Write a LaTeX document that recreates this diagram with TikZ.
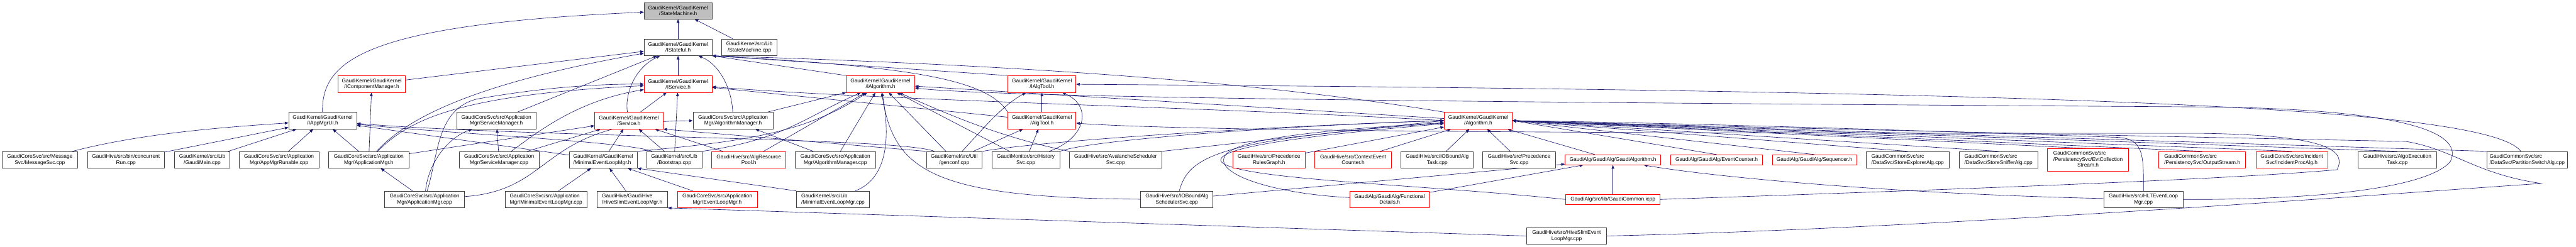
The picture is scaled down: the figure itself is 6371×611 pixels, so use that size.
\documentclass[tikz,border=0pt]{standalone}
\usepackage{fontspec}
\setmainfont{Liberation Sans}
\usetikzlibrary{arrows.meta,backgrounds}
\definecolor{linkc}{HTML}{191970}
\definecolor{rootfill}{HTML}{BFBFBF}
\definecolor{trunc}{HTML}{FF0000}
\definecolor{frame}{HTML}{404040}

\begin{document}
\begin{tikzpicture}[x=1pt, y=-1pt, >={Triangle[length=9pt,width=7pt]},
    file/.style={draw=frame, line width=1.1pt, fill=white, inner sep=0pt, minimum height=41pt,
      align=center, font=\fontsize{13}{14.5}\selectfont},
    lfile/.style={file, align=left},
    one/.style={minimum height=25pt},
    cut/.style={draw=trunc},
    dep/.style={->, draw=linkc, line width=1pt}]
  \useasboundingbox (0,0) rectangle (6371,611);

  % rows 0-3: headers
  \node[file, fill=rootfill, minimum width=168pt] (sm_h) at (1677,26.5) {GaudiKernel/GaudiKernel\\/StateMachine.h};
  \node[file, minimum width=168pt] (istateful) at (1677,117) {GaudiKernel/GaudiKernel\\/IStateful.h};
  \node[file, minimum width=137pt] (sm_cpp) at (1853.5,117) {GaudiKernel/src/Lib\\/StateMachine.cpp};
  \node[file, cut, minimum width=167pt] (icompmgr) at (919.5,208) {GaudiKernel/GaudiKernel\\/IComponentManager.h};
  \node[file, cut, minimum width=168pt] (iservice) at (1677,208) {GaudiKernel/GaudiKernel\\/IService.h};
  \node[file, cut, minimum width=169pt] (ialgorithm) at (2177.5,208) {GaudiKernel/GaudiKernel\\/IAlgorithm.h};
  \node[file, cut, minimum width=168pt] (ialgtool) at (2577,208) {GaudiKernel/GaudiKernel\\/IAlgTool.h};
  \node[file, minimum width=168pt] (iappmgrui) at (798,298.5) {GaudiKernel/GaudiKernel\\/IAppMgrUI.h};
  \node[file, minimum width=197pt] (svcmgr_h) at (1227.5,298.5) {GaudiCoreSvc/src/Application\\Mgr/ServiceManager.h};
  \node[file, cut, minimum width=169pt] (service_h) at (1555.5,298.5) {GaudiKernel/GaudiKernel\\/Service.h};
  \node[file, minimum width=198pt] (algmgr_h) at (1813,298.5) {GaudiCoreSvc/src/Application\\Mgr/AlgorithmManager.h};
  \node[file, cut, minimum width=168pt] (algtool_h) at (2577,298.5) {GaudiKernel/GaudiKernel\\/AlgTool.h};
  \node[file, cut, minimum width=168pt] (algorithm_h) at (3656,298.5) {GaudiKernel/GaudiKernel\\/Algorithm.h};

  % row 4
  \node[file, minimum width=187pt] (msgsvc) at (98.5,395.5) {GaudiCoreSvc/src/Message\\Svc/MessageSvc.cpp};
  \node[file, minimum width=191pt] (concrun) at (311.5,395.5) {GaudiHive/src/bin/concurrent\\Run.cpp};
  \node[file, minimum width=136pt] (gaudimain) at (500,395.5) {GaudiKernel/src/Lib\\/GaudiMain.cpp};
  \node[file, minimum width=198pt] (appmgrrun) at (690,395.5) {GaudiCoreSvc/src/Application\\Mgr/AppMgrRunable.cpp};
  \node[file, minimum width=198pt] (appmgr_h) at (912,395.5) {GaudiCoreSvc/src/Application\\Mgr/ApplicationMgr.h};
  \node[file, minimum width=197pt] (svcmgr_cpp) at (1234.5,395.5) {GaudiCoreSvc/src/Application\\Mgr/ServiceManager.cpp};
  \node[lfile, minimum width=168pt] (minelm_h) at (1492,395.5) {GaudiKernel/GaudiKernel\\/MinimalEventLoopMgr.h};
  \node[file, minimum width=137pt] (bootstrap) at (1667.5,395.5) {GaudiKernel/src/Lib\\/Bootstrap.cpp};
  \node[file, cut, minimum width=184pt] (algrespool) at (1852,395.5) {GaudiHive/src/AlgResource\\Pool.h};
  \node[file, minimum width=198pt] (algmgr_cpp) at (2066,395.5) {GaudiCoreSvc/src/Application\\Mgr/AlgorithmManager.cpp};
  \node[file, minimum width=138pt] (genconf) at (2360,395.5) {GaudiKernel/src/Util\\/genconf.cpp};
  \node[file, minimum width=168pt] (historysvc) at (2537,395.5) {GaudiMonitor/src/History\\Svc.cpp};
  \node[file, minimum width=228pt] (avalanche) at (2759,395.5) {GaudiHive/src/AvalancheScheduler\\Svc.cpp};
  \node[file, cut, minimum width=179pt] (precgraph) at (3138.5,395.5) {GaudiHive/src/Precedence\\RulesGraph.h};
  \node[file, cut, minimum width=189pt] (ctxcounter) at (3346.5,395.5) {GaudiHive/src/ContextEvent\\Counter.h};
  \node[file, minimum width=179pt] (ioalgtask) at (3554.5,395.5) {GaudiHive/src/IOBoundAlg\\Task.cpp};
  \node[file, minimum width=180pt] (precsvc) at (3757,395.5) {GaudiHive/src/Precedence\\Svc.cpp};
  \node[file, one, cut, minimum width=236pt] (gaudialg_h) at (3989,395.5) {GaudiAlg/GaudiAlg/GaudiAlgorithm.h};
  \node[file, one, cut, minimum width=227pt] (evtcounter) at (4245.5,395.5) {GaudiAlg/GaudiAlg/EventCounter.h};
  \node[file, one, cut, minimum width=209pt] (sequencer) at (4487.5,395.5) {GaudiAlg/GaudiAlg/Sequencer.h};
  \node[lfile, minimum width=204pt] (storeexpl) at (4718,395.5) {GaudiCommonSvc/src\\/DataSvc/StoreExplorerAlg.cpp};
  \node[lfile, minimum width=195pt] (storesniff) at (4942.5,395.5) {GaudiCommonSvc/src\\/DataSvc/StoreSnifferAlg.cpp};
  \node[file, cut, minimum width=200pt, minimum height=55pt] (evtcoll) at (5164,395.5)
    {\begin{tabular}{@{}l@{}}GaudiCommonSvc/src\\/PersistencySvc/EvtCollection\\\multicolumn{1}{@{}c@{}}{Stream.h}\end{tabular}};
  \node[lfile, cut, minimum width=215pt] (outstream) at (5446.5,395.5) {GaudiCommonSvc/src\\/PersistencySvc/OutputStream.h};
  \node[file, cut, minimum width=178pt] (incproc) at (5668,395.5) {GaudiCoreSvc/src/Incident\\Svc/IncidentProcAlg.h};
  \node[file, minimum width=194pt] (algoexec) at (5929,395.5) {GaudiHive/src/AlgoExecution\\Task.cpp};
  \node[lfile, minimum width=198pt] (partswitch) at (6250,395.5) {GaudiCommonSvc/src\\/DataSvc/PartitionSwitchAlg.cpp};

  % rows 5-6
  \node[file, minimum width=198pt] (appmgr_cpp) at (1050,493.5) {GaudiCoreSvc/src/Application\\Mgr/ApplicationMgr.cpp};
  \node[lfile, minimum width=203pt] (minelm_core) at (1350.5,493.5) {GaudiCoreSvc/src/Application\\Mgr/MinimalEventLoopMgr.cpp};
  \node[lfile, minimum width=175pt] (hiveslim_h) at (1563.5,493.5) {GaudiHive/GaudiHive\\/HiveSlimEventLoopMgr.h};
  \node[file, cut, minimum width=198pt] (evtloopmgr_h) at (1774,493.5) {GaudiCoreSvc/src/Application\\Mgr/EventLoopMgr.h};
  \node[lfile, minimum width=180pt] (minelm_lib) at (2060,493.5) {GaudiKernel/src/Lib\\/MinimalEventLoopMgr.cpp};
  \node[file, minimum width=179pt] (ioschedsvc) at (2910.5,493.5) {GaudiHive/src/IOBoundAlg\\SchedulerSvc.cpp};
  \node[file, cut, minimum width=196pt] (funcdetails) at (3437,493.5) {GaudiAlg/GaudiAlg/Functional\\Details.h};
  \node[file, one, cut, minimum width=234pt] (gaudicommon) at (3989,493.5) {GaudiAlg/src/lib/GaudiCommon.icpp};
  \node[file, minimum width=196pt] (hltelm) at (5301,493.5) {GaudiHive/src/HLTEventLoop\\Mgr.cpp};
  \node[file, minimum width=197pt] (hiveslim_cpp) at (3874.5,584) {GaudiHive/src/HiveSlimEvent\\LoopMgr.cpp};

  \begin{scope}[on background layer]
    \foreach \s/\t in {istateful/sm_h, sm_cpp/sm_h, iservice/istateful, icompmgr/istateful, svcmgr_h/istateful,
        concrun/iappmgrui, gaudimain/iappmgrui, appmgrrun/iappmgrui, appmgr_h/iappmgrui, minelm_h/iappmgrui,
        appmgr_h/icompmgr, appmgr_h/service_h, svcmgr_cpp/svcmgr_h, svcmgr_cpp/service_h, appmgr_cpp/appmgr_h,
        service_h/iservice, minelm_h/service_h, bootstrap/service_h, algrespool/service_h, bootstrap/iservice,
        algtool_h/iservice, algorithm_h/ialgorithm, algrespool/ialgorithm, algmgr_h/ialgorithm,
        algmgr_cpp/ialgorithm, genconf/ialgorithm, historysvc/ialgorithm, algmgr_cpp/algmgr_h,
        algtool_h/ialgtool, historysvc/algtool_h, genconf/algtool_h,
        precgraph/algorithm_h, ctxcounter/algorithm_h, ioalgtask/algorithm_h, precsvc/algorithm_h,
        gaudialg_h/algorithm_h, gaudicommon/gaudialg_h, funcdetails/gaudialg_h, ioschedsvc/gaudialg_h,
        minelm_core/minelm_h, hiveslim_h/minelm_h, evtloopmgr_h/minelm_h}
      \draw[dep] (\s) -- (\t);
    \foreach \s in {evtcounter, sequencer, storeexpl, storesniff, evtcoll, outstream, incproc, algoexec}
      \draw[dep] (\s.north) -- (algorithm_h.east);
    \draw[dep] (partswitch.north west) -- (algorithm_h.east);
    \draw[dep] (avalanche.north east) -- (algorithm_h.west);
    \draw[dep] (ialgorithm.north west) -- (istateful.south east);
    \draw[dep] (ialgtool.north west) -- (istateful.south east);
    \draw[dep] (genconf.north west) -- (service_h.south east);
    \draw[dep] (minelm_lib.north west) -- (minelm_h.south east);
    \draw[dep] (hiveslim_cpp.west) -- (hiveslim_h.south east);

    % curved ones
    \draw[dep] (iappmgrui) .. controls (795,150) and (900,60) .. (sm_h);
    \draw[dep] (msgsvc) .. controls (350,330) and (550,315) .. (iappmgrui);
    \draw[dep] (bootstrap) .. controls (1550,350) and (1100,330) .. (iappmgrui);
    \draw[dep] (genconf) .. controls (2230,340) and (1300,340) .. (iappmgrui);
    \draw[dep] (appmgr_h) .. controls (1000,300) and (1150,210) .. (istateful);
    \draw[dep] (appmgr_h) .. controls (1010,300) and (1120,235) .. (iservice);
    \draw[dep] (service_h) .. controls (1545,240) and (1565,170) .. (istateful);
    \draw[dep] (algmgr_h) .. controls (1810,220) and (1780,160) .. (istateful);
    \draw[dep] (algtool_h.north west) .. controls (2440,195) and (2250,165) .. (istateful.south east);
    \draw[dep] (algorithm_h.north west) .. controls (3100,200) and (2500,160) .. (istateful.south east);
    \draw[dep] (svcmgr_cpp) .. controls (1320,335) and (1420,250) .. (iservice);
    \draw[dep] (appmgr_cpp) .. controls (1060,400) and (1110,340) .. (svcmgr_h);
    \draw[dep] (appmgr_cpp) .. controls (1380,470) and (1330,300) .. (algmgr_h);
    \draw[dep] (appmgr_cpp) .. controls (1085,380) and (1080,270) .. (1180,245)
      .. controls (1350,215) and (1480,208) .. (iservice);
    \draw[dep] (algorithm_h.west) .. controls (3000,265) and (2200,250) .. (iservice);
    \draw[dep] (bootstrap.north east) .. controls (1940,345) and (1990,290) .. (ialgorithm);
    \draw[dep] (minelm_lib) .. controls (2200,440) and (2200,330) .. (ialgorithm);
    \draw[dep] (minelm_h.north east) .. controls (1840,350) and (1990,330) .. (ialgorithm);
    \draw[dep] (ioschedsvc) .. controls (2300,490) and (2210,420) .. (ialgorithm);
    \draw[dep] (avalanche.north west) .. controls (2500,345) and (2380,300) .. (ialgorithm);
    \draw[dep] (historysvc) .. controls (2690,340) and (2700,260) .. (ialgtool);
    \draw[dep] (genconf) .. controls (2430,320) and (2480,260) .. (ialgtool);
    \draw[dep] (partswitch) .. controls (6150,260) and (5000,225) .. (ialgtool);
    \draw[dep] (genconf.north east) .. controls (2600,345) and (3200,310) .. (algorithm_h.west);
    \draw[dep] (historysvc.north east) .. controls (2700,345) and (3200,310) .. (algorithm_h.west);
    \draw[dep] (ioschedsvc) .. controls (2940,390) and (3000,345) .. (algorithm_h);
    \draw[dep] (funcdetails) .. controls (3150,480) and (3000,430) .. (3030,385)
      .. controls (3060,340) and (3300,320) .. (algorithm_h);
    \draw[dep] (gaudicommon.west) .. controls (3500,455) and (3060,445) .. (3020,400)
      .. controls (3000,360) and (3300,330) .. (algorithm_h);
    \draw[dep] (hltelm) .. controls (5302,380) and (5300,345) .. (5240,340)
      .. controls (4800,325) and (4200,305) .. (algorithm_h.east);
    \draw[dep] (hltelm) .. controls (4700,480) and (4250,440) .. (gaudialg_h);
    \draw[dep] (hltelm.east) .. controls (5700,495) and (6000,470) .. (6060,400)
      .. controls (6090,340) and (6000,275) .. (5500,265)
      .. controls (4000,255) and (2500,245) .. (ialgorithm);
    \draw[dep] (gaudicommon.east) .. controls (4800,470) and (5500,445) .. (5780,420)
      .. controls (5805,370) and (5750,335) .. (5450,330)
      .. controls (4600,330) and (3000,330) .. (algtool_h);
    \draw[dep] (hiveslim_cpp.east) .. controls (4800,565) and (5900,480) .. (6285,454)
      .. controls (6120,430) and (6070,370) .. (5950,350)
      .. controls (5200,335) and (4300,315) .. (algorithm_h.east);
  \end{scope}
\end{tikzpicture}
\end{document}
